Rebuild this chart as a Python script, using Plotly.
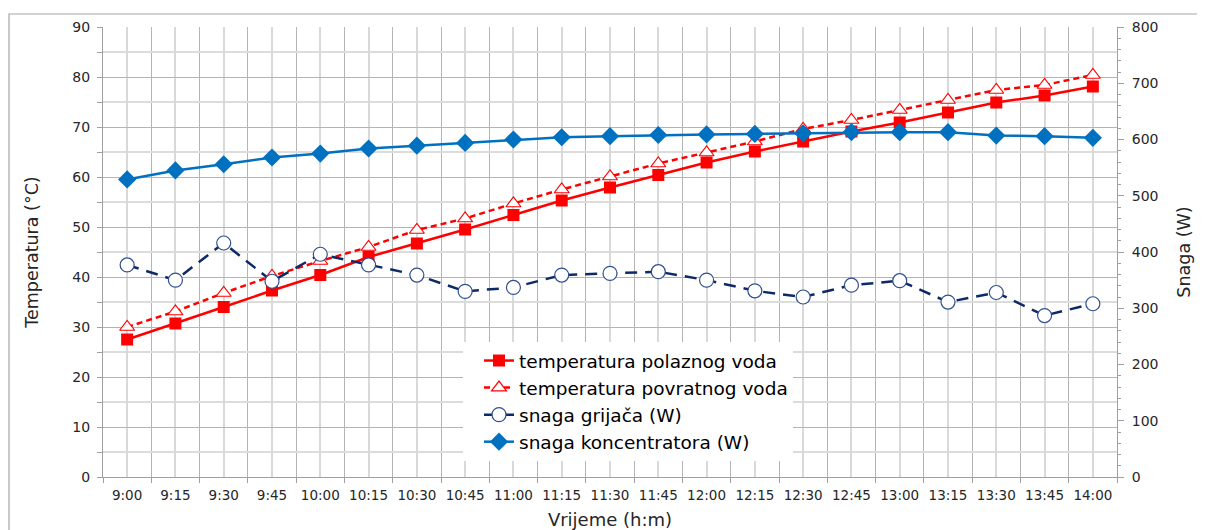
import plotly.graph_objects as go

times = ["9:00", "9:15", "9:30", "9:45", "10:00", "10:15", "10:30", "10:45", "11:00", "11:15",
         "11:30", "11:45", "12:00", "12:15", "12:30", "12:45", "13:00", "13:15", "13:30", "13:45", "14:00"]
t_polazni = [27.5, 30.7, 34.0, 37.3, 40.4, 44.0, 46.7, 49.5, 52.4, 55.3,
             57.9, 60.4, 62.9, 65.1, 67.1, 69.1, 70.9, 72.9, 74.9, 76.3, 78.1]
t_povratni = [30.0, 33.1, 36.8, 40.2, 43.2, 46.0, 49.4, 51.7, 54.7, 57.5,
              60.1, 62.7, 64.9, 67.1, 69.6, 71.4, 73.4, 75.4, 77.4, 78.4, 80.4]
p_grijac = [377, 350, 416, 348, 396, 377, 359, 330, 337, 359,
            362, 365, 350, 331, 320, 341, 349, 311, 328, 287, 308]
p_koncentrator = [529, 545, 556, 568, 575, 584, 589, 594, 600, 604,
                  606, 608, 609, 610, 611, 613, 613, 613, 607, 606, 603]

idx = list(range(len(times)))

RED = "#FF0000"
NAVY = "#0D2A66"
BLUE = "#0070C0"
FONT = "DejaVu Sans, Verdana, sans-serif"

# page body has an 8px margin, so the figure is drawn 8px right/down
OFF = 8
W, H = 1205 - OFF, 530 - OFF
L, T, R, B = 103 - OFF, 27 - OFF, 88, 53
PW, PH = W - L - R, H - T - B

fig = go.Figure()
fig.add_trace(go.Scatter(
    x=idx, y=t_polazni, name="temperatura polaznog voda", mode="lines+markers",
    line=dict(color=RED, width=2.5), legendgroup="a",
    marker=dict(symbol="square", size=12, color=RED)))
fig.add_trace(go.Scatter(
    x=idx, y=t_povratni, name="temperatura povratnog voda", mode="lines+markers",
    line=dict(color=RED, width=2.5, dash="6px,4px"), legendgroup="b",
    marker=dict(symbol="triangle-up", size=13, color="white", line=dict(color=RED, width=1.2))))
fig.add_trace(go.Scatter(
    x=idx, y=p_grijac, name="snaga grijača (W)", mode="lines+markers", yaxis="y2",
    line=dict(color=NAVY, width=2.5, dash="12px,8px"), legendgroup="c",
    marker=dict(symbol="circle", size=14, color="white", line=dict(color="#2F4F8F", width=1.2))))
fig.add_trace(go.Scatter(
    x=idx, y=p_koncentrator, name="snaga koncentratora (W)", mode="lines+markers", yaxis="y2",
    line=dict(color=BLUE, width=2.5), legendgroup="d",
    marker=dict(symbol="diamond", size=14, color=BLUE)))

fig.update_layout(
    width=W, height=H,
    margin=dict(l=L, r=R, t=T, b=B, autoexpand=False),
    paper_bgcolor="white", plot_bgcolor="white",
    font=dict(family=FONT, size=14, color="#262626"),
    showlegend=True,
    legend=dict(x=(463 - 103) / 1014, y=(477 - 342) / 450, xanchor="left", yanchor="top",
                bgcolor="white", borderwidth=0, font=dict(size=18.5, color="#000000"),
                traceorder="grouped", tracegroupgap=0, itemwidth=30, indentation=16),
    xaxis=dict(
        range=[-0.5, 20.5], tickmode="array", tickvals=idx, ticktext=times,
        showgrid=True, gridcolor="#D9D9D9", gridwidth=2,
        ticks="", showline=True, linecolor="#A0A0A0", linewidth=1,
        tickfont=dict(size=13.5), ticklabelstandoff=6,
        minor=dict(tick0=-0.5, dtick=1, showgrid=True, gridcolor="#B4B4B4", gridwidth=1,
                   ticks="outside", ticklen=5, tickcolor="#A0A0A0"),
        title=dict(text="Vrijeme (h:m)", font=dict(size=18), standoff=11),
        zeroline=False),
    yaxis=dict(
        range=[0, 90], dtick=10, showgrid=True, gridcolor="#B4B4B4", gridwidth=1,
        ticks="outside", ticklen=5, tickcolor="#A0A0A0",
        showline=True, linecolor="#A0A0A0", linewidth=1, ticklabelstandoff=4,
        minor=dict(dtick=5, showgrid=True, gridcolor="#DCDCDC", gridwidth=1.5,
                   ticks="outside", ticklen=5, tickcolor="#A0A0A0"),
        title=dict(text="Temperatura (°C)", font=dict(size=17.5), standoff=29),
        zeroline=False, tickfont=dict(size=14)),
    yaxis2=dict(
        range=[0, 800], dtick=100, overlaying="y", side="right", showgrid=False,
        ticks="outside", ticklen=6, tickcolor="#A0A0A0",
        showline=True, linecolor="#A0A0A0", linewidth=1, ticklabelstandoff=5,
        minor=dict(dtick=20, ticks="outside", ticklen=3, tickcolor="#A0A0A0", showgrid=False),
        title=dict(text="Snaga (W)", font=dict(size=17.5), standoff=20),
        zeroline=False, tickfont=dict(size=14)),
)

fig.add_shape(type="rect", xref="paper", yref="paper",
              x0=(9 - 103) / PW, x1=(1215 - 103) / PW,
              y0=(477 - 540) / PH, y1=(477 - 14) / PH,
              line=dict(color="#A6A6A6", width=1.2), fillcolor="rgba(0,0,0,0)", layer="below")

fig.write_html("out.html")
